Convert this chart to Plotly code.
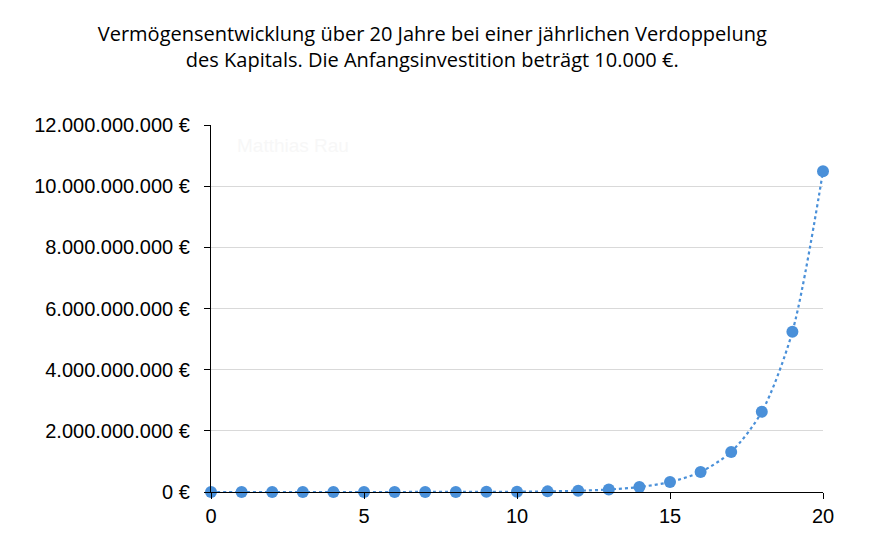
import plotly.graph_objects as go

years = list(range(0, 21))
capital = [10000, 20000, 40000, 80000, 160000, 320000, 640000, 1280000, 2560000,
           5120000, 10240000, 20480000, 40960000, 81920000, 163840000, 327680000,
           655360000, 1310720000, 2621440000, 5242880000, 10485760000]

y_tick_vals = [0, 2e9, 4e9, 6e9, 8e9, 10e9, 12e9]
y_tick_text = ["0 €", "2.000.000.000 €", "4.000.000.000 €", "6.000.000.000 €",
               "8.000.000.000 €", "10.000.000.000 €", "12.000.000.000 €"]
x_tick_vals = [0, 5, 10, 15, 20]

title_text = ("Vermögensentwicklung über 20 Jahre bei einer jährlichen Verdoppelung<br>"
              "des Kapitals. Die Anfangsinvestition beträgt 10.000 €.")

color = "#4a90d9"

fig = go.Figure()
fig.add_trace(go.Scatter(
    x=years, y=capital, mode="lines+markers",
    line=dict(color=color, width=2.2, dash="dot", shape="spline", smoothing=0.8),
    marker=dict(color=color, size=12),
    showlegend=False, cliponaxis=False,
))

fig.update_layout(
    width=873, height=548,
    margin=dict(l=203, r=58, t=117, b=64),
    paper_bgcolor="white", plot_bgcolor="white",
    title=dict(text=title_text, x=0.486, xanchor="center", y=0.94, yanchor="top",
               font=dict(family="Open Sans, Noto Sans, sans-serif", size=20, color="#000")),
    font=dict(family="Liberation Sans, Arial, sans-serif", size=20, color="#000"),
    xaxis=dict(range=[0, 20], tickvals=x_tick_vals, ticks="outside", ticklen=6,
               tickcolor="#000", showline=True, linecolor="#000", linewidth=1.3,
               showgrid=False, zeroline=False, tickfont=dict(size=20)),
    yaxis=dict(range=[0, 12e9], tickvals=y_tick_vals, ticktext=y_tick_text,
               ticks="outside", ticklen=6, tickcolor="#000", showline=True,
               linecolor="#000", linewidth=1.3, showgrid=True, gridcolor="#d9d9d9",
               gridwidth=1, zeroline=False, tickfont=dict(size=20),
               ticklabelstandoff=10),
    annotations=[dict(text="Matthias Rau", xref="paper", yref="paper", x=0.04, y=0.945,
                      xanchor="left", yanchor="middle", showarrow=False,
                      font=dict(family="Liberation Sans, Arial, sans-serif", size=19,
                                color="#f7f7f7"))],
)

fig.write_html("out.html")
